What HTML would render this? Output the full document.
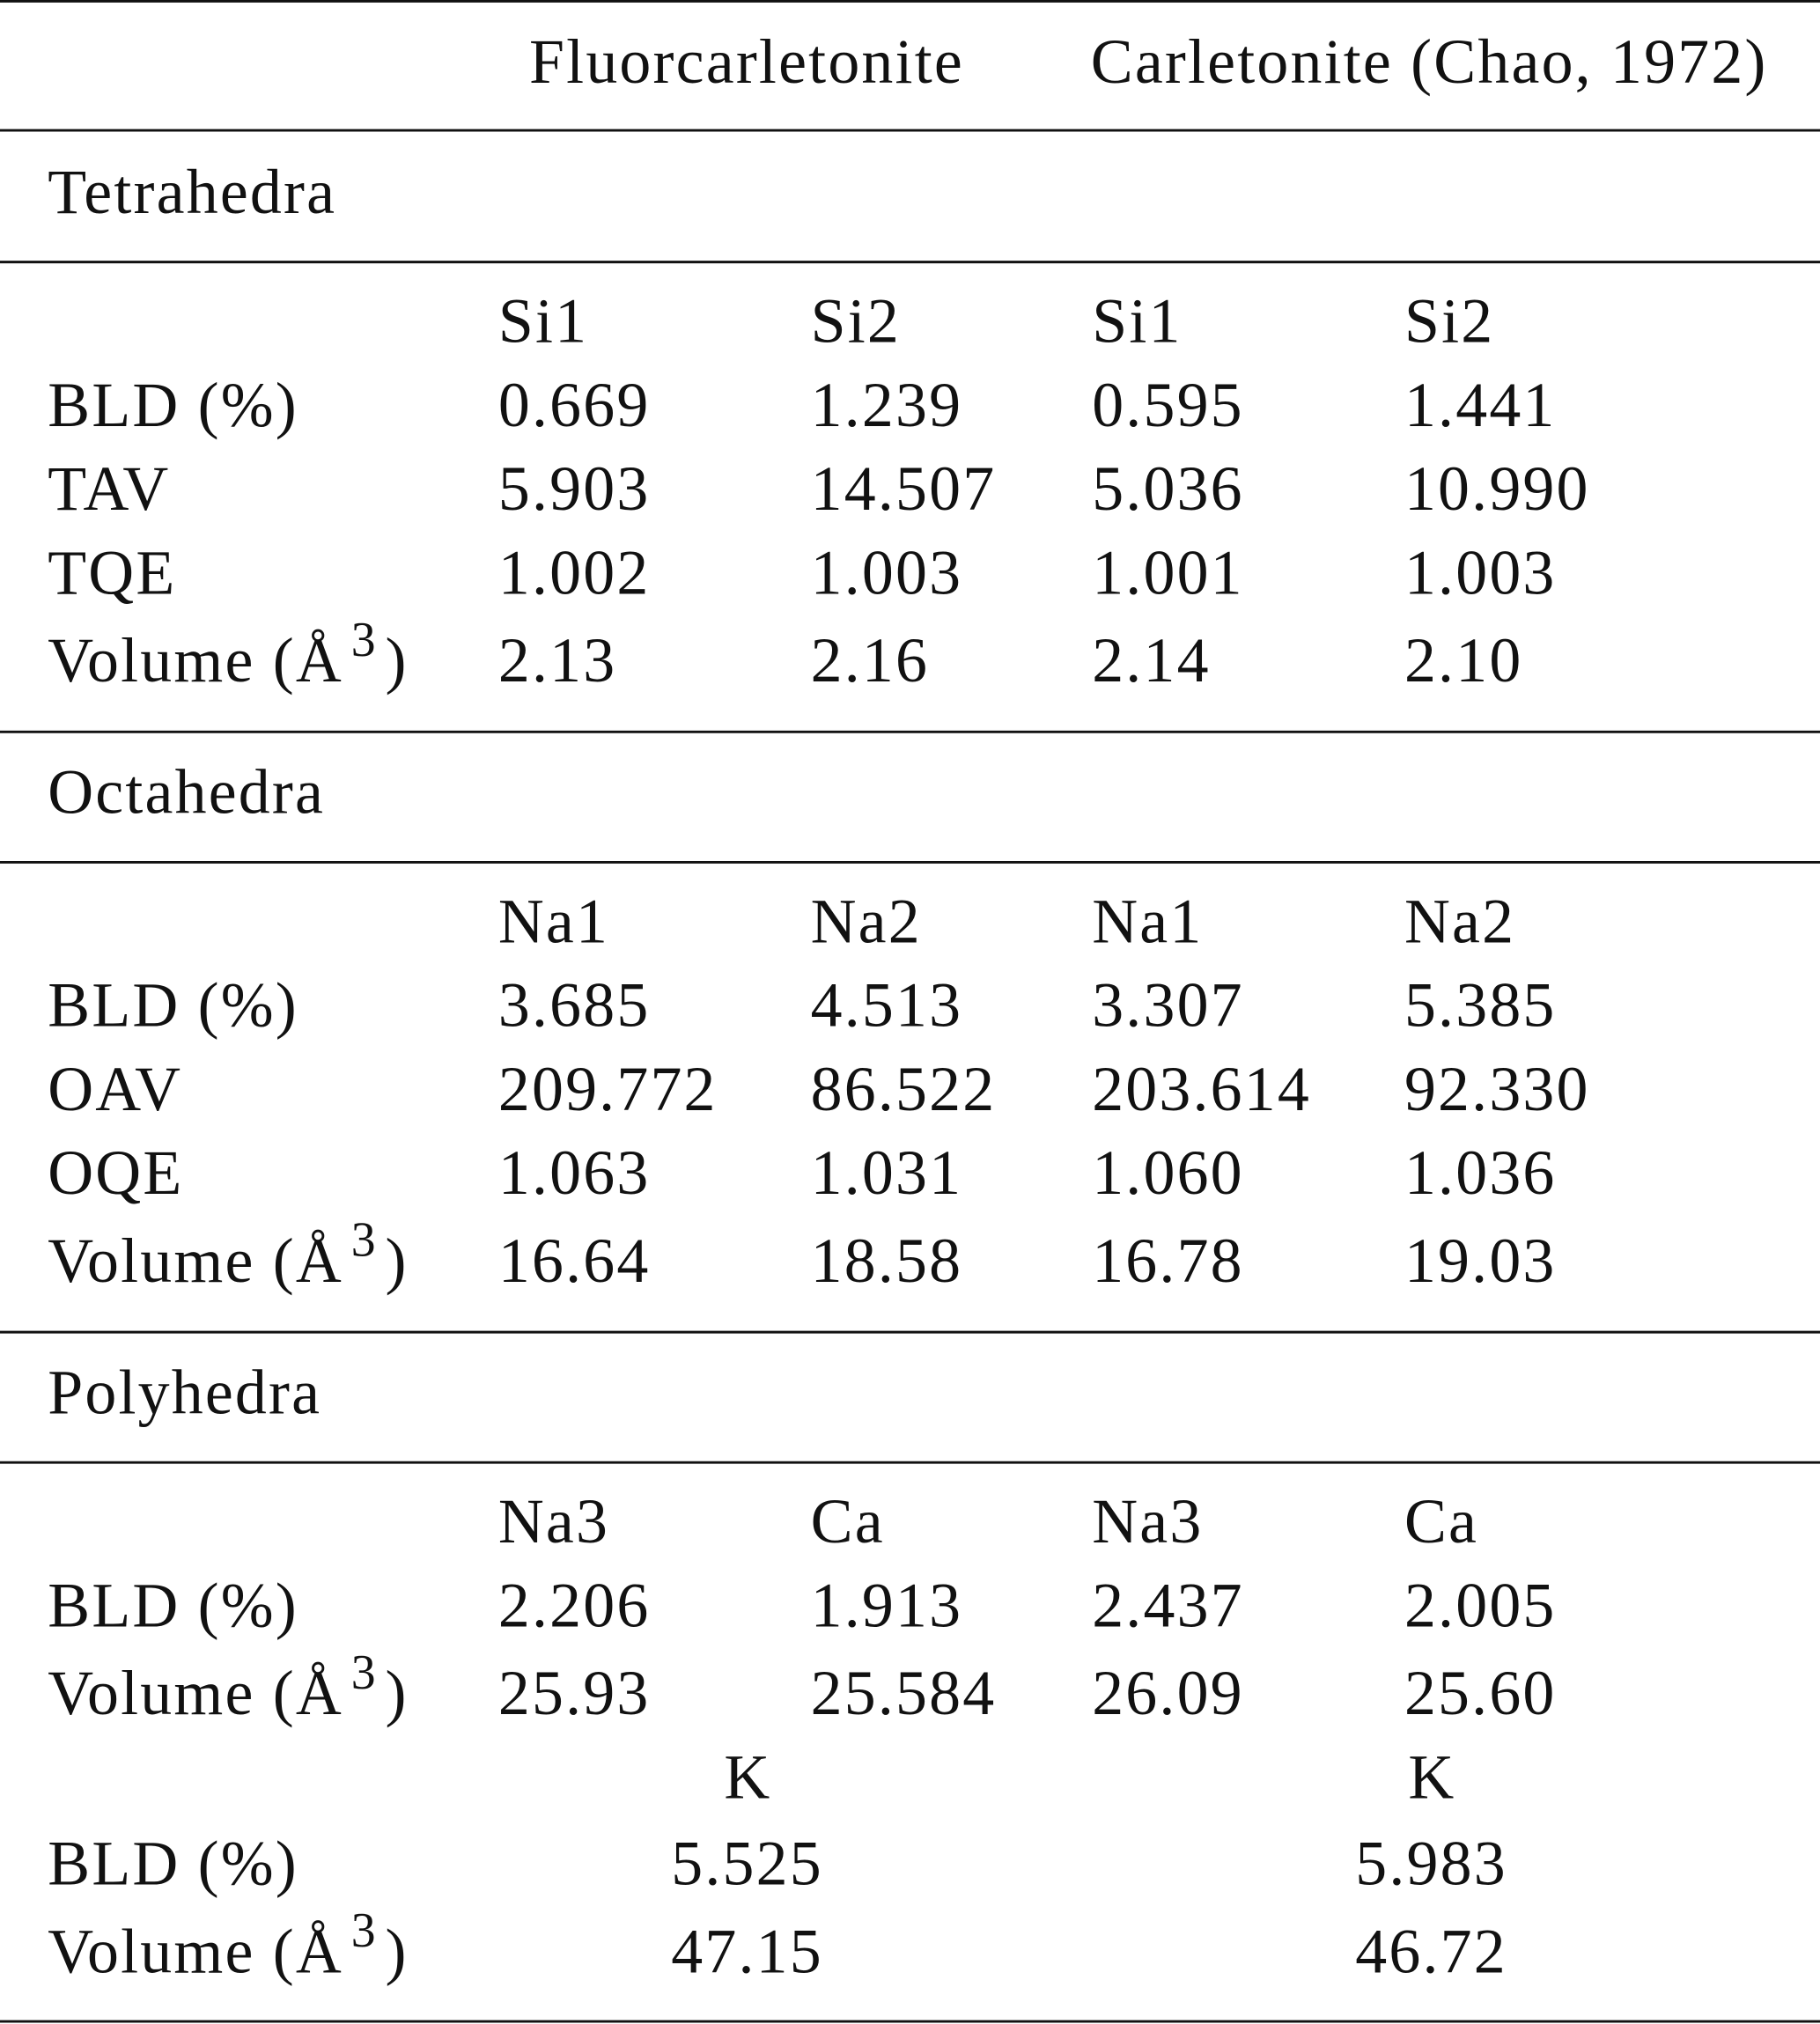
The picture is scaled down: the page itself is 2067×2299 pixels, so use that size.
<!DOCTYPE html>
<html><head><meta charset="utf-8"><style>
html,body{margin:0;padding:0;background:#fff;}
svg{display:block;}
text{font-family:"Liberation Serif",serif;font-size:49px;letter-spacing:1.5px;fill:#111;}
</style></head><body>
<svg width="2067" height="2299" viewBox="0 0 1410 1568" preserveAspectRatio="none" xmlns="http://www.w3.org/2000/svg">
<g stroke="#111" stroke-width="2">
<line x1="0" y1="1" x2="1410" y2="1"/>
<line x1="0" y1="101" x2="1410" y2="101"/>
<line x1="0" y1="203" x2="1410" y2="203"/>
<line x1="0" y1="567" x2="1410" y2="567"/>
<line x1="0" y1="668" x2="1410" y2="668"/>
<line x1="0" y1="1032" x2="1410" y2="1032"/>
<line x1="0" y1="1133" x2="1410" y2="1133"/>
<line x1="0" y1="1566" x2="1410" y2="1566"/>
</g>
<text x="410" y="64">Fluorcarletonite</text>
<text x="845" y="64">Carletonite (Chao, 1972)</text>

<text x="37" y="165">Tetrahedra</text>
<text x="386" y="265">Si1</text><text x="628" y="265">Si2</text><text x="846" y="265">Si1</text><text x="1088" y="265">Si2</text>
<text x="37" y="330">BLD (%)</text><text x="386" y="330">0.669</text><text x="628" y="330">1.239</text><text x="846" y="330">0.595</text><text x="1088" y="330">1.441</text>
<text x="37" y="395">TAV</text><text x="386" y="395">5.903</text><text x="628" y="395">14.507</text><text x="846" y="395">5.036</text><text x="1088" y="395">10.990</text>
<text x="37" y="460">TQE</text><text x="386" y="460">1.002</text><text x="628" y="460">1.003</text><text x="846" y="460">1.001</text><text x="1088" y="460">1.003</text>
<text x="37" y="528">Volume (Å<tspan dx="6" dy="-20" font-size="38">3</tspan><tspan dx="6" dy="20">)</tspan></text><text x="386" y="528">2.13</text><text x="628" y="528">2.16</text><text x="846" y="528">2.14</text><text x="1088" y="528">2.10</text>

<text x="37" y="630">Octahedra</text>
<text x="386" y="730">Na1</text><text x="628" y="730">Na2</text><text x="846" y="730">Na1</text><text x="1088" y="730">Na2</text>
<text x="37" y="795">BLD (%)</text><text x="386" y="795">3.685</text><text x="628" y="795">4.513</text><text x="846" y="795">3.307</text><text x="1088" y="795">5.385</text>
<text x="37" y="860">OAV</text><text x="386" y="860">209.772</text><text x="628" y="860">86.522</text><text x="846" y="860">203.614</text><text x="1088" y="860">92.330</text>
<text x="37" y="925">OQE</text><text x="386" y="925">1.063</text><text x="628" y="925">1.031</text><text x="846" y="925">1.060</text><text x="1088" y="925">1.036</text>
<text x="37" y="993">Volume (Å<tspan dx="6" dy="-20" font-size="38">3</tspan><tspan dx="6" dy="20">)</tspan></text><text x="386" y="993">16.64</text><text x="628" y="993">18.58</text><text x="846" y="993">16.78</text><text x="1088" y="993">19.03</text>

<text x="37" y="1095">Polyhedra</text>
<text x="386" y="1195">Na3</text><text x="628" y="1195">Ca</text><text x="846" y="1195">Na3</text><text x="1088" y="1195">Ca</text>
<text x="37" y="1260">BLD (%)</text><text x="386" y="1260">2.206</text><text x="628" y="1260">1.913</text><text x="846" y="1260">2.437</text><text x="1088" y="1260">2.005</text>
<text x="37" y="1328">Volume (Å<tspan dx="6" dy="-20" font-size="38">3</tspan><tspan dx="6" dy="20">)</tspan></text><text x="386" y="1328">25.93</text><text x="628" y="1328">25.584</text><text x="846" y="1328">26.09</text><text x="1088" y="1328">25.60</text>
<text x="561" y="1393">K</text><text x="1091" y="1393">K</text>
<text x="37" y="1460">BLD (%)</text><text x="520" y="1460">5.525</text><text x="1050" y="1460">5.983</text>
<text x="37" y="1528">Volume (Å<tspan dx="6" dy="-20" font-size="38">3</tspan><tspan dx="6" dy="20">)</tspan></text><text x="520" y="1528">47.15</text><text x="1050" y="1528">46.72</text>
</svg>
</body></html>
